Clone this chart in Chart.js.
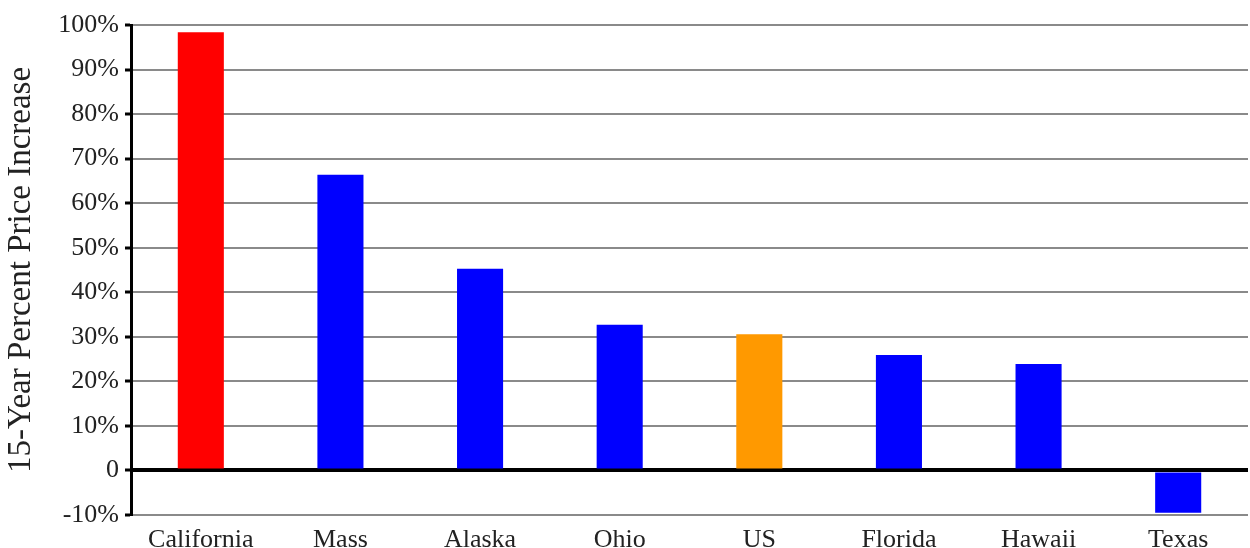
<!DOCTYPE html>
<html>
<head>
<meta charset="utf-8">
<script src="https://cdn.jsdelivr.net/npm/chart.js@4/dist/chart.umd.min.js"></script>
<style>
  html, body { margin: 0; padding: 0; background: #fff; }
  #wrap { width: 1250px; height: 548px; position: relative; }
</style>
</head>
<body>
<div id="wrap"><canvas id="chart"></canvas></div>
<script>
// Data
const states = ['California', 'Mass', 'Alaska', 'Ohio', 'US', 'Florida', 'Hawaii', 'Texas'];
const increases = [98.4, 66.4, 45.3, 32.7, 30.6, 25.9, 23.9, -9.5];
const barColors = ['#ff0000', '#0000ff', '#0000ff', '#0000ff', '#ff9900', '#0000ff', '#0000ff', '#0000ff'];
const yMin = -10, yMax = 100, yStep = 10;

const serif = '"Liberation Serif", "Times New Roman", serif';

new Chart(document.getElementById('chart'), {
    type: 'bar',
    data: {
        labels: states,
        datasets: [{
            data: increases,
            backgroundColor: barColors,
            borderWidth: 0,
            barPercentage: 0.33,
            categoryPercentage: 1.0
        }]
    },
    options: {
        responsive: true,
        maintainAspectRatio: false,
        animation: false,
        layout: { padding: { left: 0, top: 25, right: 2, bottom: 0 } },
        plugins: {
            legend: { display: false },
            tooltip: { enabled: false }
        },
        scales: {
            x: {
                grid: { display: false },
                border: { display: false },
                ticks: {
                    color: '#222',
                    font: { family: serif, size: 26 },
                    padding: 2,
                    maxRotation: 0
                },
                afterFit: (scale) => { scale.height = 33; }
            },
            y: {
                min: yMin,
                max: yMax,
                ticks: {
                    stepSize: yStep,
                    color: '#222',
                    font: { family: serif, size: 26 },
                    padding: 6,
                    callback: (v) => v === 0 ? '0' : v + '%'
                },
                grid: {
                    color: (ctx) => ctx.tick && ctx.tick.value === 0 ? '#000' : '#8a8a8a',
                    lineWidth: (ctx) => ctx.tick && ctx.tick.value === 0 ? 4 : 2,
                    tickColor: '#000',
                    tickLength: 6,
                    tickWidth: 3
                },
                border: { display: true, color: '#000', width: 3 },
                title: {
                    display: true,
                    text: '15-Year Percent Price Increase',
                    color: '#222',
                    font: { family: serif, size: 33 },
                    padding: { top: 2, bottom: 0 }
                },
                afterFit: (scale) => { scale.width = 131; }
            }
        }
    }
});
</script>
</body>
</html>
